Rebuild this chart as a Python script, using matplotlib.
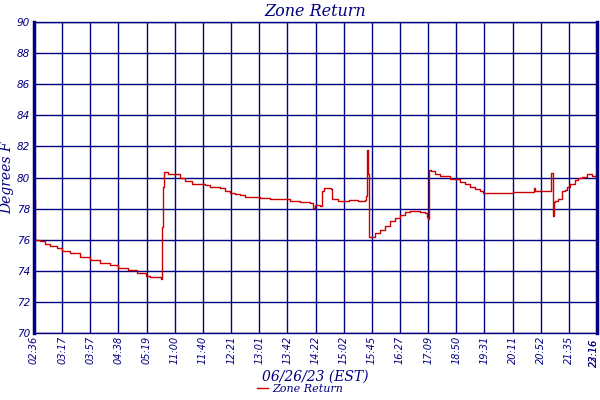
import numpy as np
import matplotlib
matplotlib.use('Agg')
import matplotlib.pyplot as plt

# sample position (in label intervals) and temperature
pos = [0.00, 0.02, 0.04, 0.21, 0.40, 0.57, 0.80, 1.00, 1.28, 1.63, 1.99, 2.34, 2.70, 2.98,
       3.34, 3.66, 3.98, 4.12, 4.51, 4.55, 4.58, 4.62, 4.75, 4.97, 5.19, 5.36, 5.61, 5.90,
       6.07, 6.25, 6.61, 6.79, 6.96, 7.14, 7.32, 7.50, 8.03, 8.38, 9.09, 9.45, 9.80, 9.91,
       9.98, 10.16, 10.23, 10.30, 10.41, 10.55, 10.59, 10.80, 11.20, 11.50, 11.76, 11.79,
       11.83, 11.86, 11.90, 11.97, 12.11, 12.29, 12.47, 12.65, 12.82, 13.00, 13.18, 13.36,
       13.71, 13.89, 13.96, 14.00, 14.03, 14.10, 14.25, 14.42, 14.78, 15.13, 15.31, 15.49,
       15.67, 15.84, 15.95, 16.91, 17.00, 17.69, 17.76, 17.80, 18.33, 18.37, 18.42, 18.44,
       18.47, 18.51, 18.61, 18.76, 18.86, 18.95, 19.04, 19.22, 19.33, 19.47, 19.64, 19.82,
       20.00]
temp = [78.6, 77.3, 76.0, 75.9, 75.75, 75.6, 75.45, 75.3, 75.15, 74.9, 74.7, 74.5, 74.4, 74.2,
        74.05, 73.86, 73.65, 73.6, 73.5, 76.8, 79.4, 80.35, 80.25, 80.2, 80.0, 79.75, 79.6, 79.55,
        79.5, 79.4, 79.3, 79.15, 79.0, 78.95, 78.85, 78.75, 78.65, 78.6, 78.5, 78.45, 78.35, 78.05,
        78.2, 78.15, 79.1, 79.35, 79.3, 79.25, 78.6, 78.5, 78.55, 78.5, 78.55, 78.8,
        81.75, 80.2, 76.2, 76.15, 76.4, 76.6, 76.85, 77.2, 77.4, 77.6, 77.8, 77.85,
        77.8, 77.7, 77.45, 77.3, 80.5, 80.4, 80.25, 80.1, 79.9, 79.7, 79.55, 79.4,
        79.25, 79.1, 79.0, 79.0, 79.05, 79.05, 79.3, 79.1, 79.1, 80.3, 79.0, 77.5,
        78.4, 78.5, 78.6, 79.1, 79.2, 79.4, 79.55, 79.85, 80.0, 80.05, 80.25, 80.1,
        80.05]

xlabels = ['02:36', '03:17', '03:57', '04:38', '05:19', '11:00', '11:40', '12:21', '13:01',
           '13:42', '14:22', '15:02', '15:45', '16:27', '17:09', '18:50', '19:31', '20:11',
           '20:52', '21:35']
end_labels = ['22:16', '23:16']

navy = '#000080'
red = '#cc0000'

fig = plt.figure(figsize=(6, 4), dpi=100)
ax = fig.add_axes([34/600, 1-333/400, 563/600, 311/400])

ax.step(pos, temp, where='post', color=red, lw=1.0, label='Zone Return')

ax.set_xlim(0, 20)
ax.set_ylim(70, 90)
ax.set_yticks(np.arange(70, 91, 2))
ax.set_xticks(range(21))
ax.set_xticklabels(xlabels + [''], rotation=90, fontsize=7, style='italic', color=navy)
ax.tick_params(axis='y', labelsize=7.5, labelcolor=navy, length=0, pad=3)
ax.tick_params(axis='x', length=0, pad=2)
for t in ax.get_yticklabels():
    t.set_style('italic')
# the last two labels overlap at the right edge
for lab in end_labels:
    ax.text(19.9, 69.6, lab, rotation=90, fontsize=7, style='italic', color=navy,
            ha='center', va='top')

ax.grid(True, color=navy, lw=1.0)
ax.set_axisbelow(True)
for s in ['top', 'bottom']:
    ax.spines[s].set_color(navy)
    ax.spines[s].set_linewidth(1.0)
ax.spines['left'].set_color(navy)
ax.spines['left'].set_linewidth(2.5)
ax.spines['right'].set_color(navy)
ax.spines['right'].set_linewidth(2.5)

ax.set_title('Zone Return', fontsize=11.5, style='italic', family='DejaVu Serif',
             color=navy, pad=4)
ax.set_ylabel('Degrees F', fontsize=10, style='italic', family='DejaVu Serif',
              color=navy, labelpad=2)
ax.set_xlabel('06/26/23 (EST)', fontsize=10, style='italic', family='DejaVu Serif',
              color=navy, labelpad=4)

leg = fig.legend(loc='lower center', bbox_to_anchor=(0.5, -0.01), frameon=False,
                 handlelength=1.0, handletextpad=0.3,
                 prop={'size': 8, 'style': 'italic', 'family': 'DejaVu Serif'})
for t in leg.get_texts():
    t.set_color(navy)

fig.savefig('out.png', dpi=100)
